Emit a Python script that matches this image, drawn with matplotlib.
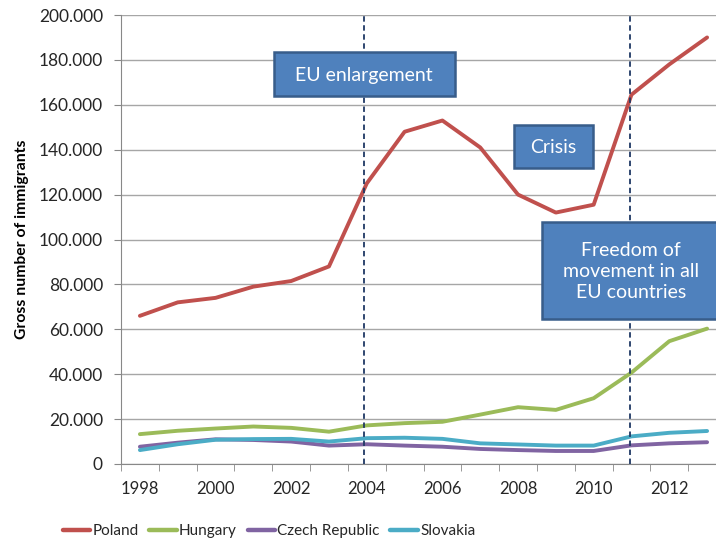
import numpy as np
import matplotlib.pyplot as plt
from matplotlib.patches import Rectangle
from matplotlib.ticker import FuncFormatter, MultipleLocator

plt.rcParams['font.family'] = ['Lato', 'DejaVu Sans']

# data
years = list(range(1998, 2014))
poland = [66000, 72000, 74000, 79000, 81500, 88000, 125000, 148000,
          153000, 141000, 120000, 112000, 115500, 164500, 178000, 190000]
hungary = [13300, 14800, 15800, 16700, 16100, 14400, 17200, 18200,
           18800, 22000, 25300, 24100, 29300, 40700, 54700, 60300]
czech = [7700, 9500, 11000, 10700, 10000, 8200, 8800, 8200,
         7700, 6700, 6200, 5800, 5800, 8300, 9200, 9700]
slovakia = [6200, 8800, 10800, 11100, 11200, 10000, 11500, 11700,
            11200, 9200, 8700, 8200, 8200, 12300, 13900, 14700]

series = [("Poland", poland, "#C0504D"),
          ("Hungary", hungary, "#9BBB59"),
          ("Czech Republic", czech, "#8064A2"),
          ("Slovakia", slovakia, "#4BACC6")]

events = [2003.93, 2010.95]

W, H = 716, 542
fig = plt.figure(figsize=(W / 100, H / 100), dpi=100)
ax = fig.add_axes([121 / W, 1 - 464 / H, 605 / W, 449 / H])

for name, vals, col in series:
    ax.plot(years, vals, color=col, lw=2.8, label=name, solid_capstyle='round', zorder=3)

for ev in events:
    ax.axvline(ev, color="#1F3864", lw=1.3, ls=(0, (3, 2)), zorder=4)

ax.set_xlim(1997.5, 2013.5)
ax.set_ylim(0, 200000)
ax.yaxis.set_major_locator(MultipleLocator(20000))
ax.yaxis.set_major_formatter(FuncFormatter(lambda v, p: "0" if v == 0 else f"{int(v):,}".replace(",", ".")))
ax.set_xticks(years[::2])
ax.set_xticks(np.arange(1997.5, 2014, 1), minor=True)
ax.tick_params(axis='x', which='major', length=0, pad=12, labelsize=12, labelcolor="#262626")
ax.tick_params(axis='x', which='minor', length=5, color="#888888")
ax.tick_params(axis='y', length=5, color="#888888", labelsize=12.5, pad=8, labelcolor="#262626")
ax.grid(axis='y', color="#A6A6A6", lw=1)
ax.set_axisbelow(True)
for s in ['top', 'right']:
    ax.spines[s].set_visible(False)
for s in ['left', 'bottom']:
    ax.spines[s].set_color("#888888")

ax.set_ylabel("Gross number of immigrants", fontsize=11.3, fontweight='bold')
ax.yaxis.set_label_coords((29 - 121) / 605, 0.5)

# annotation boxes (pixel positions in the reference)
boxes = [("EU enlargement", 274, 52, 181, 44, 364),
         ("Crisis", 514, 125, 79, 43, 553),
         ("Freedom of\nmovement in all\nEU countries", 542, 222, 178, 97, 631)]
for txt, x, y, w, h, cx in boxes:
    fig.add_artist(Rectangle((x / W, 1 - (y + h) / H), w / W, h / H,
                             transform=fig.transFigure, facecolor="#4F81BD",
                             edgecolor="#385D8A", lw=1.8, zorder=10))
    fig.text(cx / W, 1 - (y + h / 2 + 1) / H, txt, color="white", fontsize=14,
             ha='center', va='center', linespacing=1.3, zorder=11)

leg = fig.legend(loc='center', bbox_to_anchor=(269 / W, 1 - 531 / H), ncol=4,
                 frameon=False, fontsize=11, handlelength=1.8, handletextpad=0.15,
                 columnspacing=0.7, labelcolor="#262626")
for ln in leg.get_lines():
    ln.set_linewidth(3.2)

fig.savefig("out.png", dpi=100)
